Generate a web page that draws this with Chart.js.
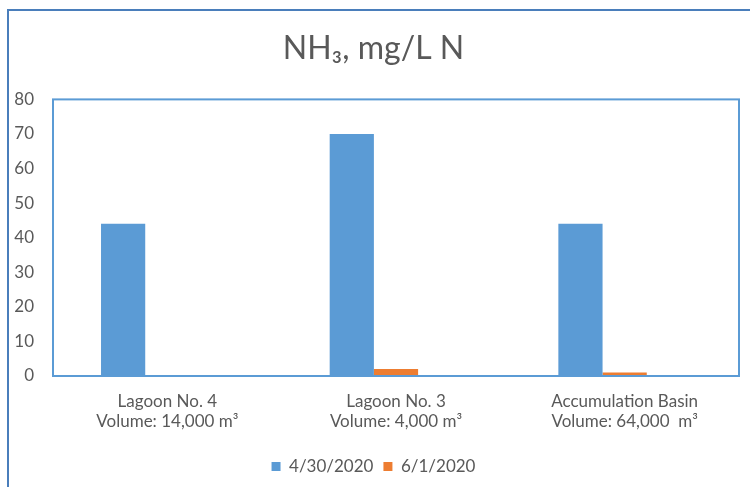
<!DOCTYPE html>
<html>
<head>
<meta charset="utf-8">
<script src="https://cdn.jsdelivr.net/npm/chart.js@4.4.1/dist/chart.umd.min.js"></script>
<style>
  html, body { margin: 0; padding: 0; background: #ffffff; }
  #wrap { width: 750px; height: 487px; position: relative; }
</style>
</head>
<body>
<div id="wrap"><canvas id="c" width="750" height="487"></canvas></div>
<script>
const categories = [
  ["Lagoon No. 4", "Volume: 14,000 m\u00B3"],
  ["Lagoon No. 3", "Volume: 4,000 m\u00B3"],
  ["Accumulation Basin", "Volume: 64,000  m\u00B3"]
];
const seriesNames = ["4/30/2020", "6/1/2020", ""];
const values0430 = [44, 70, 44];
const values0601 = [0.3, 2.0, 1.0];
const valuesEmpty = [null, null, null];
const yTicks = [0, 10, 20, 30, 40, 50, 60, 70, 80];

const FONT = "Lato, 'Open Sans', sans-serif";
const TXT = "#595959";

const framePlugin = {
  id: 'frames',
  beforeDraw(chart) {
    const ctx = chart.ctx;
    ctx.save();
    ctx.fillStyle = '#ffffff';
    ctx.fillRect(0, 0, chart.width, chart.height);
    ctx.strokeStyle = '#4a7ebb';
    ctx.lineWidth = 2;
    ctx.beginPath();
    ctx.moveTo(8, chart.height + 2);
    ctx.lineTo(8, 10);
    ctx.lineTo(chart.width + 2, 10);
    ctx.stroke();
    ctx.restore();
  },
  afterDatasetsDraw(chart) {
    const a = chart.chartArea;
    const ctx = chart.ctx;
    ctx.save();
    ctx.strokeStyle = '#5b9bd5';
    ctx.lineWidth = 2;
    ctx.strokeRect(a.left, a.top, a.right - a.left, a.bottom - a.top);
    ctx.restore();
  }
};

new Chart(document.getElementById('c'), {
  type: 'bar',
  data: {
    labels: categories,
    datasets: [
      { label: seriesNames[0], data: values0430, backgroundColor: '#5b9bd5' },
      { label: seriesNames[1], data: values0601, backgroundColor: '#ed7d31' },
      { label: seriesNames[2], data: valuesEmpty, backgroundColor: '#a5a5a5' }
    ]
  },
  options: {
    responsive: false,
    animation: false,
    devicePixelRatio: 1,
    layout: { padding: { left: 8, right: 11, top: 0, bottom: 2 } },
    datasets: { bar: { categoryPercentage: 0.58, barPercentage: 1.0 } },
    plugins: {
      title: {
        display: true,
        text: "NH\u2083, mg/L N",
        color: TXT,
        font: { family: FONT, size: 32, weight: 'normal' },
        padding: { top: 29, bottom: 32 }
      },
      legend: {
        position: 'bottom',
        labels: {
          filter: (item) => item.text !== "",
          color: TXT,
          font: { family: FONT, size: 17 },
          boxWidth: 9,
          boxHeight: 9,
          padding: 10
        }
      },
      tooltip: { enabled: false }
    },
    scales: {
      x: {
        grid: { display: false, drawTicks: false },
        border: { display: false },
        ticks: {
          color: TXT,
          font: { family: FONT, size: 17, lineHeight: 1.2 },
          padding: 15,
          maxRotation: 0,
          autoSkip: false
        },
        afterFit(scale) { scale.height = 72; }
      },
      y: {
        min: 0,
        max: 80,
        afterBuildTicks(scale) { scale.ticks = yTicks.map(v => ({ value: v })); },
        grid: { display: false, drawTicks: false },
        border: { display: false },
        ticks: {
          color: TXT,
          font: { family: FONT, size: 17 },
          padding: 19
        },
        afterFit(scale) { scale.width = 45; }
      }
    }
  },
  plugins: [framePlugin]
});
</script>
</body>
</html>
